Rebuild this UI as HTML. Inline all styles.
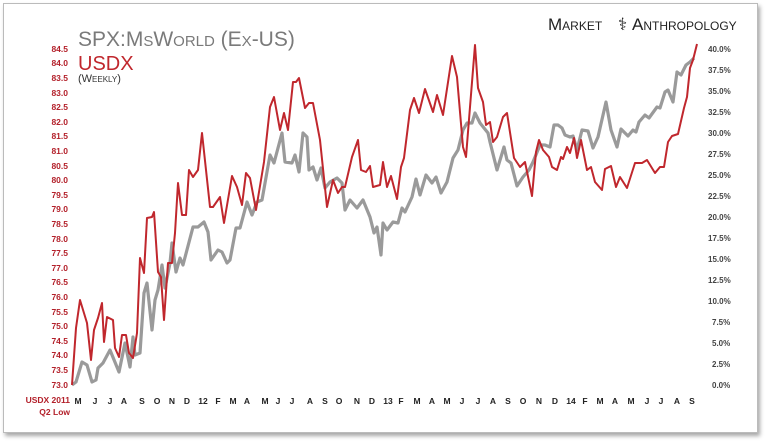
<!DOCTYPE html>
<html><head><meta charset="utf-8"><style>
html,body{margin:0;padding:0;background:#fff;}
body{width:765px;height:441px;position:relative;overflow:hidden;font-family:"Liberation Sans",sans-serif;}
.frame{position:absolute;left:3px;top:3px;width:753px;height:428px;border:1px solid #bbb;box-shadow:2px 3px 4px rgba(0,0,0,0.35);background:#fff;}
svg{position:absolute;left:0;top:0;}
</style></head><body>
<div class="frame"></div>
<svg width="765" height="441" viewBox="0 0 765 441" font-family="Liberation Sans, sans-serif">
<text x="78" y="46" font-size="21" fill="#7a7a7a" style="font-variant:small-caps">SPX:MsWorld (Ex-US)</text>
<text x="78" y="70" font-size="20" fill="#c0272d">USDX</text>
<text x="78" y="82" font-size="11" fill="#333" style="font-variant:small-caps">(Weekly)</text>
<text x="548" y="30" font-size="17" fill="#222" style="font-variant:small-caps">Market</text>
<text x="618" y="30" font-size="17" fill="#222">⚕</text>
<text x="632" y="30" font-size="17" fill="#222" style="font-variant:small-caps">Anthropology</text>
<g font-size="8.5" font-weight="bold" fill="#b3202a" text-anchor="end">
<text x="68" y="52">84.5</text><text x="68" y="66">84.0</text><text x="68" y="81">83.5</text><text x="68" y="96">83.0</text><text x="68" y="110">82.5</text><text x="68" y="125">82.0</text><text x="68" y="139">81.5</text><text x="68" y="154">81.0</text><text x="68" y="169">80.5</text><text x="68" y="183">80.0</text><text x="68" y="198">79.5</text><text x="68" y="212">79.0</text><text x="68" y="227">78.5</text><text x="68" y="242">78.0</text><text x="68" y="256">77.5</text><text x="68" y="271">77.0</text><text x="68" y="285">76.5</text><text x="68" y="300">76.0</text><text x="68" y="315">75.5</text><text x="68" y="329">75.0</text><text x="68" y="344">74.5</text><text x="68" y="358">74.0</text><text x="68" y="373">73.5</text><text x="68" y="388">73.0</text>
<text x="70" y="403">USDX 2011</text><text x="70" y="415">Q2 Low</text>
</g>
<g font-size="8" font-weight="bold" fill="#444">
<text x="708" y="52">40.0%</text><text x="708" y="73">37.5%</text><text x="708" y="94">35.0%</text><text x="708" y="115">32.5%</text><text x="708" y="136">30.0%</text><text x="708" y="157">27.5%</text><text x="708" y="178">25.0%</text><text x="708" y="199">22.5%</text><text x="708" y="220">20.0%</text><text x="708" y="241">17.5%</text><text x="708" y="262">15.0%</text><text x="708" y="283">12.5%</text><text x="708" y="304">10.0%</text><text x="712" y="325">7.5%</text><text x="712" y="346">5.0%</text><text x="712" y="367">2.5%</text><text x="712" y="388">0.0%</text>
</g>
<g font-size="8.5" font-weight="bold" fill="#222" text-anchor="middle">
<text x="78" y="404">M</text><text x="95" y="404">J</text><text x="110" y="404">J</text><text x="124" y="404">A</text><text x="142" y="404">S</text><text x="157" y="404">O</text><text x="172" y="404">N</text><text x="187" y="404">D</text><text x="203" y="404">12</text><text x="218" y="404">F</text><text x="233" y="404">M</text><text x="247" y="404">A</text><text x="265" y="404">M</text><text x="278" y="404">J</text><text x="292" y="404">J</text><text x="310" y="404">A</text><text x="325" y="404">S</text><text x="339" y="404">O</text><text x="357" y="404">N</text><text x="372" y="404">D</text><text x="388" y="404">13</text><text x="401" y="404">F</text><text x="417" y="404">M</text><text x="432" y="404">A</text><text x="447" y="404">M</text><text x="462" y="404">J</text><text x="478" y="404">J</text><text x="493" y="404">A</text><text x="508" y="404">S</text><text x="523" y="404">O</text><text x="539" y="404">N</text><text x="555" y="404">D</text><text x="571" y="404">14</text><text x="585" y="404">F</text><text x="600" y="404">M</text><text x="615" y="404">A</text><text x="631" y="404">M</text><text x="647" y="404">J</text><text x="661" y="404">J</text><text x="677" y="404">A</text><text x="692" y="404">S</text>
</g>
<polyline fill="none" stroke="#9a9a9a" stroke-width="3.2" stroke-linejoin="round" points="72,385 76,382 82,362 87,365 92,382 96,380 98,368 103,363 110,350 119,372 125,343 130,367 133,337 135,355 140,353 144,293 147,283 152,330 155,300 158,290 162,265 165,288 170,263 172,243 176,272 180,258 183,265 193,227 198,227 204,222 208,232 211,260 218,250 222,252 227,263 230,260 236,228 240,228 247,202 252,215 257,202 262,200 270,155 274,163 282,133 285,162 292,163 295,155 299,172 303,133 307,137 309,170 313,167 317,180 321,168 325,188 330,182 337,178 342,183 345,210 350,200 357,208 363,200 370,217 374,233 377,227 381,255 383,223 387,230 393,222 398,223 402,208 405,212 412,197 416,179 420,195 426,175 432,183 436,177 441,193 447,182 453,158 458,150 463,130 467,123 472,123 475,113 480,123 488,133 490,142 497,170 504,147 507,160 511,163 517,186 523,177 529,170 533,162 540,145 545,145 550,147 554,125 558,125 562,128 565,135 570,137 573,136 577,150 582,130 588,131 593,148 598,137 606,102 611,130 617,147 621,129 628,136 633,130 636,132 639,122 645,115 649,118 657,107 660,108 665,92 668,90 673,102 677,72 681,75 686,65 690,62 694,58"/>
<polyline fill="none" stroke="#c0272d" stroke-width="2" stroke-linejoin="round" points="72,385 76,328 80,300 87,323 91,360 94,330 98,318 102,303 104,342 107,317 113,320 115,348 119,357 122,335 126,335 129,353 133,358 137,333 140,258 144,273 147,218 152,217 154,212 158,272 161,277 164,320 168,263 172,263 175,233 178,183 182,215 186,215 189,170 193,177 198,170 202,133 210,207 213,207 220,197 224,223 232,176 237,187 242,205 246,173 250,178 256,210 264,162 270,107 274,97 280,130 284,113 288,130 293,82 296,82 299,78 305,108 309,103 313,103 320,140 327,207 333,180 338,193 342,187 345,187 352,157 358,140 361,170 366,172 370,166 373,187 380,185 383,162 387,187 391,176 397,199 401,167 404,158 410,110 414,98 419,113 425,89 433,112 437,95 443,115 452,56 457,77 463,147 466,157 470,107 475,45 478,88 483,102 486,125 490,122 493,142 497,137 503,117 507,113 514,158 520,167 525,162 532,196 536,152 539,140 543,150 549,157 552,167 557,170 561,157 563,159 567,147 570,153 574,138 577,158 581,140 587,170 591,167 595,182 602,190 605,169 611,166 616,187 620,177 627,188 635,163 642,163 647,160 655,173 660,167 664,167 668,142 672,136 678,134 684,108 687,97 690,68 693,60 697,44"/>
</svg>
</body></html>
